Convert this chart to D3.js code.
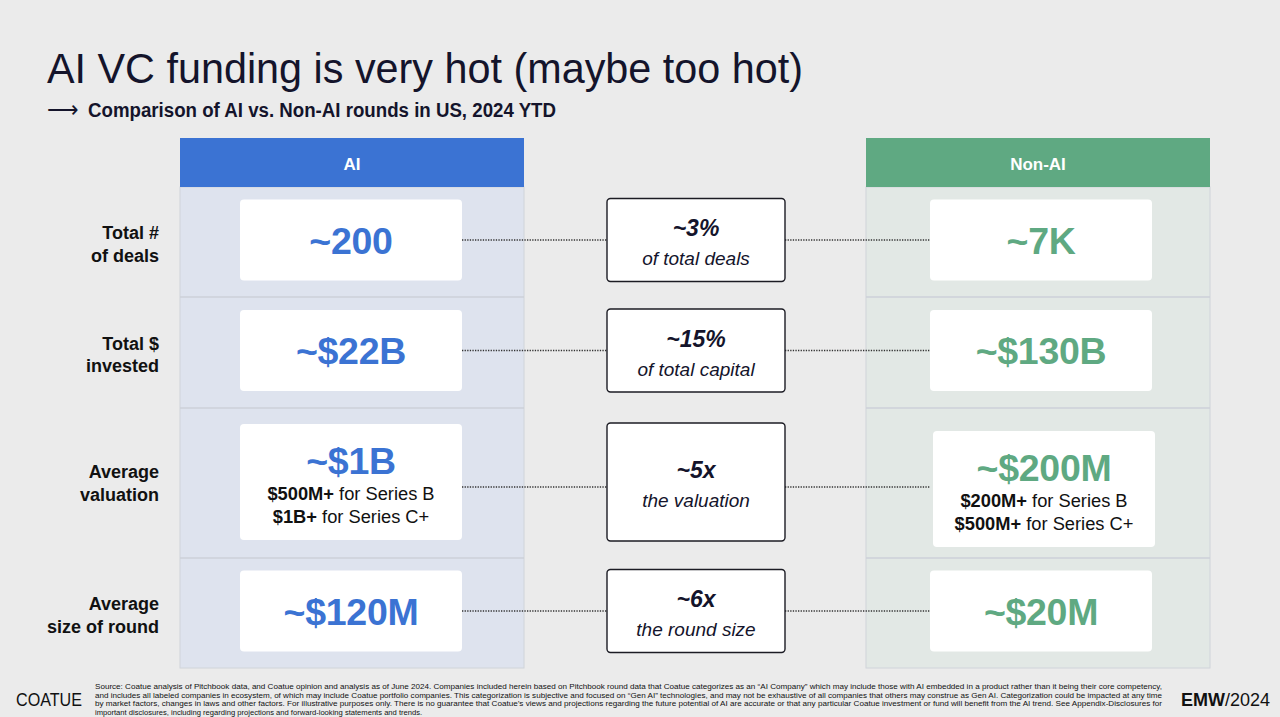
<!DOCTYPE html>
<html>
<head>
<meta charset="utf-8">
<script src="https://cdn.jsdelivr.net/npm/d3@7"></script>
<style>
  body { margin: 0; background: #ebebeb; }
  svg { display: block; font-family: "Liberation Sans", Arial, sans-serif; }
</style>
</head>
<body>
<div id="viz"></div>
<script>
var width = 1280,
    height = 717;

// data
var rowLabels = [["Total #", "of deals"], ["Total $", "invested"], ["Average", "valuation"], ["Average", "size of round"]];
var columns = ["AI", "Non-AI"];
var aiValues = ["~200", "~$22B", "~$1B", "~$120M"];
var nonAiValues = ["~7K", "~$130B", "~$200M", "~$20M"];
var ratioValues = ["~3%", "~15%", "~5x", "~6x"];
var ratioLabels = ["of total deals", "of total capital", "the valuation", "the round size"];
var aiNotes = [[], [], [["$500M+", " for Series B"], ["$1B+", " for Series C+"]], []];
var nonAiNotes = [[], [], [["$200M+", " for Series B"], ["$500M+", " for Series C+"]], []];

var footnote = [
  "Source: Coatue analysis of Pitchbook data, and Coatue opinion and analysis as of June 2024. Companies included herein based on Pitchbook round data that Coatue categorizes as an \u201CAI Company\u201D which may include those with AI embedded in a product rather than it being their core competency,",
  "and includes all labeled companies in ecosystem, of which may include Coatue portfolio companies. This categorization is subjective and focused on \u201CGen AI\u201D technologies, and may not be exhaustive of all companies that others may construe as Gen AI. Categorization could be impacted at any time",
  "by market factors, changes in laws and other factors. For illustrative purposes only. There is no guarantee that Coatue\u2019s views and projections regarding the future potential of AI are accurate or that any particular Coatue investment or fund will benefit from the AI trend. See Appendix-Disclosures for",
  "important disclosures, including regarding projections and forward-looking statements and trends."
];

// layout
var blue = "#3b73d3", green = "#5fa982";
var rowWeights = [110, 111, 150, 110];
var rowTop = 187, rowBottom = 668;
var cum = [0];
rowWeights.forEach(function(w, i) { cum.push(cum[i] + w); });
var y = d3.scaleLinear().domain([0, cum[cum.length - 1]]).range([rowTop, rowBottom]);

var x = d3.scaleOrdinal().domain(["AI", "mid", "Non-AI"]).range([180, 607, 866]);
var colW = 344, cardW = 222, midW = 178;

var svg = d3.select("#viz").append("svg")
    .attr("width", width)
    .attr("height", height);

svg.append("rect").attr("width", width).attr("height", height).attr("fill", "#ebebeb");

// title
svg.append("text")
    .attr("x", 47).attr("y", 83)
    .attr("font-size", 42.5)
    .attr("fill", "#14142b")
    .attr("textLength", 756)
    .attr("lengthAdjust", "spacingAndGlyphs")
    .text("AI VC funding is very hot (maybe too hot)");

svg.append("text")
    .attr("x", 47).attr("y", 117)
    .attr("font-size", 22)
    .attr("fill", "#14142b")
    .text("\u27F6");

svg.append("text")
    .attr("x", 88).attr("y", 117)
    .attr("font-family", "'Liberation Sans Narrow', 'Liberation Sans', Arial, sans-serif")
    .attr("font-size", 20)
    .attr("font-weight", "bold")
    .attr("fill", "#14142b")
    .attr("textLength", 468)
    .attr("lengthAdjust", "spacingAndGlyphs")
    .text("Comparison of AI vs. Non-AI rounds in US, 2024 YTD");

// columns
var colColor = { "AI": blue, "Non-AI": green };
var bodyColor = { "AI": "#dee3ee", "Non-AI": "#e2e8e5" };

columns.forEach(function(c) {
  var g = svg.append("g").attr("transform", "translate(" + x(c) + ",0)");
  g.append("rect")
      .attr("x", 0).attr("y", rowTop)
      .attr("width", colW).attr("height", rowBottom - rowTop)
      .attr("fill", bodyColor[c])
      .attr("stroke", "#d0d4da");
  g.append("rect")
      .attr("x", 0).attr("y", 138)
      .attr("width", colW).attr("height", rowTop - 138)
      .attr("fill", colColor[c]);
  g.append("text")
      .attr("x", colW / 2).attr("y", 170)
      .attr("text-anchor", "middle")
      .attr("font-size", 17).attr("font-weight", "bold")
      .attr("fill", "#fff")
      .text(c);
  g.selectAll("line.sep")
      .data(cum.slice(1, -1))
    .enter().append("line")
      .attr("class", "sep")
      .attr("x1", 0).attr("x2", colW)
      .attr("y1", function(d) { return y(d); })
      .attr("y2", function(d) { return y(d); })
      .attr("stroke", "#cdd1d8")
      .attr("stroke-width", 1.5);
});

// rows
var rows = d3.range(rowLabels.length).map(function(i) {
  var top = y(cum[i]), bot = y(cum[i + 1]);
  var tall = aiNotes[i].length > 0;
  return {
    i: i,
    tall: tall,
    cy: tall ? (top + bot) / 2 - 1 : (top + bot) / 2 - 2,
    cardH: tall ? 116 : 81
  };
});

// row labels
svg.selectAll("text.rowlabel")
    .data(rows)
  .enter().append("text")
    .attr("class", "rowlabel")
    .attr("text-anchor", "end")
    .attr("font-size", 18).attr("font-weight", "bold")
    .attr("fill", "#111")
    .each(function(d) {
      var t = d3.select(this);
      rowLabels[d.i].forEach(function(s, k) {
        t.append("tspan")
            .attr("x", 159)
            .attr("y", d.cy + (d.tall ? -4 : -1) + k * 22.5)
            .text(s);
      });
    });

// dotted connectors
var dots = svg.append("g")
    .attr("stroke", "#333")
    .attr("stroke-width", 1.3)
    .attr("stroke-dasharray", "1.3,1.3");
rows.forEach(function(d) {
  var ly = d.cy + (d.tall ? 5 : 0);
  dots.append("line")
      .attr("x1", x("AI") + 60 + cardW).attr("x2", x("mid"))
      .attr("y1", ly).attr("y2", ly);
  dots.append("line")
      .attr("x1", x("mid") + midW).attr("x2", x("Non-AI") + 64)
      .attr("y1", ly).attr("y2", ly);
});

// value cards
function drawCards(col, values, notes, color, shift) {
  var g = svg.append("g").attr("transform", "translate(" + x(col) + ",0)");
  var card = g.selectAll("g.card")
      .data(rows)
    .enter().append("g")
      .attr("class", "card")
      .attr("transform", function(d) {
        var dy = (col === "Non-AI" && d.tall) ? 7 : 0;
        var dx = (col === "Non-AI" && d.tall) ? 3 : 0;
        return "translate(" + (shift + dx) + "," + (d.cy - d.cardH / 2 + dy) + ")";
      });
  card.append("rect")
      .attr("width", cardW)
      .attr("height", function(d) { return d.cardH; })
      .attr("rx", 4)
      .attr("fill", "#fff");
  card.append("text")
      .attr("x", cardW / 2)
      .attr("y", function(d) { return d.tall ? 50 : 54; })
      .attr("text-anchor", "middle")
      .attr("font-size", 37.5).attr("font-weight", "bold")
      .attr("letter-spacing", -0.3)
      .attr("fill", color)
      .text(function(d) { return values[d.i]; });
  card.each(function(d) {
    var c = d3.select(this);
    notes[d.i].forEach(function(n, k) {
      var t = c.append("text")
          .attr("x", cardW / 2)
          .attr("y", 76 + k * 22.5)
          .attr("text-anchor", "middle")
          .attr("font-size", 18.3)
          .attr("fill", "#111");
      t.append("tspan").attr("font-weight", "bold").text(n[0]);
      t.append("tspan").text(n[1]);
    });
  });
}
drawCards("AI", aiValues, aiNotes, blue, 60);
drawCards("Non-AI", nonAiValues, nonAiNotes, green, 64);

// ratio boxes
var mid = svg.selectAll("g.mid")
    .data(rows)
  .enter().append("g")
    .attr("class", "mid")
    .attr("transform", function(d) {
      return "translate(" + x("mid") + "," + (d.cy - d.cardH / 2 - 1) + ")";
    });
mid.append("rect")
    .attr("width", midW)
    .attr("height", function(d) { return d.cardH + 2; })
    .attr("rx", 3.5)
    .attr("fill", "#fff")
    .attr("stroke", "#1c1c24")
    .attr("stroke-width", 1.4);
mid.append("text")
    .attr("x", midW / 2)
    .attr("y", function(d) { return (d.cardH + 2) / 2 - 4; })
    .attr("text-anchor", "middle")
    .attr("font-size", 23).attr("font-weight", "bold").attr("font-style", "italic")
    .attr("fill", "#14142b")
    .text(function(d) { return ratioValues[d.i]; });
mid.append("text")
    .attr("x", midW / 2)
    .attr("y", function(d) { return (d.cardH + 2) / 2 + 25; })
    .attr("text-anchor", "middle")
    .attr("font-size", 19).attr("font-style", "italic")
    .attr("fill", "#14142b")
    .text(function(d) { return ratioLabels[d.i]; });

// footer
svg.append("text")
    .attr("x", 16).attr("y", 706)
    .attr("font-size", 17.5)
    .attr("textLength", 66)
    .attr("lengthAdjust", "spacingAndGlyphs")
    .attr("fill", "#111")
    .text("COATUE");

svg.selectAll("text.foot")
    .data(footnote)
  .enter().append("text")
    .attr("class", "foot")
    .attr("x", 95)
    .attr("y", function(d, i) { return 689 + i * 8.6; })
    .attr("font-size", 7.6)
    .attr("fill", "#111")
    .each(function(d, i) {
      if (i < 3) d3.select(this).attr("textLength", 1067).attr("lengthAdjust", "spacingAndGlyphs");
    })
    .text(function(d) { return d; });

var emw = svg.append("text")
    .attr("x", 1270).attr("y", 706)
    .attr("text-anchor", "end")
    .attr("font-size", 18)
    .attr("fill", "#111");
emw.append("tspan").attr("font-weight", "bold").text("EMW");
emw.append("tspan").text("/2024");
</script>
</body>
</html>
